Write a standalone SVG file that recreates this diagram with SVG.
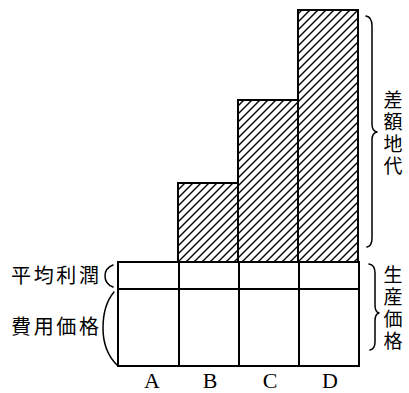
<svg xmlns="http://www.w3.org/2000/svg" width="409" height="393" viewBox="0 0 409 393">
<style>
.box{fill:none;stroke:#000;stroke-width:2}
.hat{fill:url(#hatch);stroke:#000;stroke-width:2}
.br{fill:none;stroke:#000;stroke-width:1.5;stroke-linecap:round;stroke-linejoin:round}
.lbl{font-family:"Noto Sans CJK JP","Noto Sans CJK SC",sans-serif;font-size:20px;fill:#000}
.vl{font-family:"Noto Sans CJK JP","Noto Sans CJK SC",sans-serif;font-size:19px;fill:#000;text-anchor:middle}
.let{font-family:"Liberation Serif",serif;font-size:22px;fill:#000;text-anchor:middle}
</style>
<defs>
<pattern id="hatch" patternUnits="userSpaceOnUse" width="8" height="8">
<path d="M-2,2 L2,-2 M0,8 L8,0 M6,10 L10,6" stroke="#000" stroke-width="1.4"/>
</pattern>
</defs>
<rect width="409" height="393" fill="#fff"/>
<g id="bar-B"><rect class="hat" x="178" y="183" width="60" height="79"/></g>
<g id="bar-C"><rect class="hat" x="238" y="100" width="60" height="162"/></g>
<g id="bar-D"><rect class="hat" x="298" y="10" width="60" height="252"/></g>
<g id="base">
<rect class="box" x="118" y="262" width="241" height="104"/>
<line class="box" x1="118" y1="289" x2="359" y2="289"/>
<line class="box" x1="179" y1="262" x2="179" y2="366"/>
<line class="box" x1="239" y1="262" x2="239" y2="366"/>
<line class="box" x1="299" y1="262" x2="299" y2="366"/>
</g>
<g id="connectors">
<path class="br" d="M366,16 Q372,17 372,26 L372,124 Q372,131 377,132 Q372,133 372,140 L372,238 Q372,246 367,247"/>
<path class="br" d="M369,264 Q375,265 375,273 L375,305 Q375,312 379,313 Q375,314 375,321 L375,342 Q375,349 370,350"/>
<path class="br" d="M113,265 Q105,268 105,276 Q105,284 113,287"/>
<path class="br" d="M114,292 Q103,305 103,328 Q103,352 118,366"/>
</g>
<g id="label-rent">
<text class="vl" x="393" y="107">差</text>
<text class="vl" x="393" y="129">額</text>
<text class="vl" x="393" y="151">地</text>
<text class="vl" x="393" y="173">代</text>
</g>
<g id="label-production">
<text class="vl" x="393" y="282">生</text>
<text class="vl" x="393" y="304">産</text>
<text class="vl" x="393" y="326">価</text>
<text class="vl" x="393" y="348">格</text>
</g>
<g id="label-profit"><text class="lbl" x="11" y="283" textLength="88">平均利潤</text></g>
<g id="label-cost"><text class="lbl" x="11" y="334" textLength="88">費用価格</text></g>
<g id="letters">
<text class="let" x="152" y="388">A</text>
<text class="let" x="210" y="388">B</text>
<text class="let" x="270" y="388">C</text>
<text class="let" x="330" y="388">D</text>
</g>
</svg>
